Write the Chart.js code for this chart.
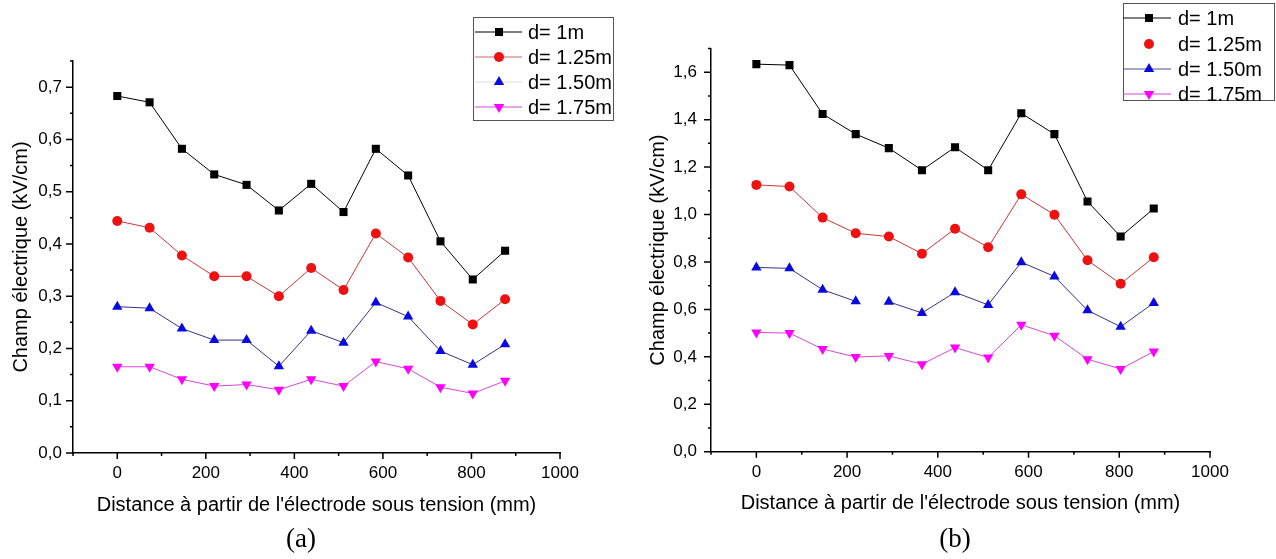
<!DOCTYPE html>
<html>
<head>
<meta charset="utf-8">
<script src="https://cdn.jsdelivr.net/npm/chart.js@4.4.1/dist/chart.umd.min.js"></script>
<style>
  body { margin: 0; background: #fff; width: 1276px; height: 559px; overflow: hidden; position: relative; }
  .panel { position: absolute; top: 0; height: 559px; }
  .cap { position: absolute; top: 523px; font-family: "Liberation Serif", "Times New Roman", serif; font-size: 27px; transform: translateX(-50%); color: #000; }
</style>
</head>
<body>
<div class="panel" style="left:0;width:640px"><canvas id="chartA"></canvas></div>
<div class="panel" style="left:640px;width:636px"><canvas id="chartB"></canvas></div>
<div class="cap" style="left:301px">(a)</div>
<div class="cap" style="left:955px">(b)</div>
<script>
// distances (mm) where the field was measured
const distances = [0, 73, 146, 219, 292, 365, 438, 511, 584, 657, 730, 803, 876];
const seriesNames = ["d= 1m", "d= 1.25m", "d= 1.50m", "d= 1.75m"];

// (a) champ électrique, kV/cm
const fieldA_100 = [0.683, 0.671, 0.582, 0.533, 0.513, 0.464, 0.515, 0.461, 0.582, 0.531, 0.405, 0.332, 0.387];
const fieldA_125 = [0.444, 0.431, 0.378, 0.338, 0.338, 0.300, 0.354, 0.312, 0.420, 0.374, 0.291, 0.246, 0.294];
const fieldA_150 = [0.280, 0.277, 0.238, 0.216, 0.216, 0.166, 0.234, 0.211, 0.288, 0.261, 0.195, 0.169, 0.208];
const fieldA_175 = [0.165, 0.165, 0.141, 0.128, 0.131, 0.121, 0.141, 0.128, 0.175, 0.161, 0.126, 0.114, 0.138];

// (b) champ électrique, kV/cm
const fieldB_100 = [1.634, 1.630, 1.424, 1.339, 1.280, 1.187, 1.284, 1.187, 1.427, 1.339, 1.055, 0.907, 1.025];
const fieldB_125 = [1.125, 1.118, 0.987, 0.921, 0.907, 0.835, 0.940, 0.862, 1.085, 0.999, 0.807, 0.708, 0.820];
const fieldB_150 = [0.777, 0.773, 0.683, 0.634, 0.632, 0.585, 0.672, 0.619, 0.799, 0.739, 0.596, 0.527, 0.627];
const fieldB_175 = [0.503, 0.500, 0.433, 0.399, 0.404, 0.369, 0.439, 0.397, 0.535, 0.489, 0.390, 0.349, 0.422];

// tick labels
const xTicks = [0, 200, 400, 600, 800, 1000];
const xMinor = [-100, 100, 300, 500, 700, 900];
const yTicksA = [0, 0.1, 0.2, 0.3, 0.4, 0.5, 0.6, 0.7];
const yMinorA = [0.05, 0.15, 0.25, 0.35, 0.45, 0.55, 0.65, 0.75];
const yTicksB = [0, 0.2, 0.4, 0.6, 0.8, 1.0, 1.2, 1.4, 1.6];
const yMinorB = [0.1, 0.3, 0.5, 0.7, 0.9, 1.1, 1.3, 1.5, 1.7];

const xTitle = "Distance à partir de l'électrode sous tension (mm)";
const yTitle = "Champ électrique (kV/cm)";

const markers = [
  { style: "rect", rot: 0, r: 5.7, fill: "#000000", line: "#000000" },
  { style: "circle", rot: 0, r: 5, fill: "#ee1111", line: "#cc3535" },
  { style: "triangle", rot: 0, r: 6, fill: "#0a0ae0", line: "#34347e" },
  { style: "triangle", rot: 180, r: 6, fill: "#ff00ff", line: "#d448d4" }
];

Chart.defaults.font.family = '"Liberation Sans", Arial, sans-serif';
Chart.defaults.color = "#000";

const fmt = v => v.toFixed(1).replace(".", ",");

function drawMarker(ctx, m, x, y) {
  ctx.fillStyle = m.fill;
  ctx.strokeStyle = m.fill;
  if (Chart.helpers && Chart.helpers.drawPoint) {
    Chart.helpers.drawPoint(ctx, { pointStyle: m.style, rotation: m.rot, radius: m.r, borderWidth: 0 }, x, y);
  }
}

// outward major / minor tick marks
const axisTicks = {
  id: "axisTicks",
  afterDraw(chart, args, opts) {
    const ctx = chart.ctx;
    const xs = chart.scales.x, ys = chart.scales.y, a = chart.chartArea;
    ctx.save();
    ctx.strokeStyle = "#000";
    ctx.lineWidth = 1.5;
    ctx.beginPath();
    xTicks.forEach(v => { const p = xs.getPixelForValue(v); ctx.moveTo(p, a.bottom); ctx.lineTo(p, a.bottom + 6); });
    xMinor.forEach(v => { const p = xs.getPixelForValue(v); ctx.moveTo(p, a.bottom); ctx.lineTo(p, a.bottom + 3); });
    opts.major.forEach(v => { const p = ys.getPixelForValue(v); ctx.moveTo(a.left, p); ctx.lineTo(a.left - 7, p); });
    opts.minor.forEach(v => { const p = ys.getPixelForValue(v); ctx.moveTo(a.left, p); ctx.lineTo(a.left - 3, p); });
    ctx.stroke();
    ctx.restore();
  }
};

// Origin-style legend: line with marker in the middle
const boxLegend = {
  id: "boxLegend",
  afterDraw(chart, args, o) {
    const ctx = chart.ctx;
    ctx.save();
    ctx.fillStyle = "#fff";
    ctx.fillRect(o.box[0], o.box[1], o.box[2] - o.box[0], o.box[3] - o.box[1]);
    ctx.strokeStyle = "#555";
    ctx.lineWidth = 1;
    ctx.strokeRect(o.box[0] + 0.5, o.box[1] + 0.5, o.box[2] - o.box[0], o.box[3] - o.box[1]);
    seriesNames.forEach((name, i) => {
      const y = o.rows[i];
      if (o.lines[i]) {
        ctx.strokeStyle = o.lines[i];
        ctx.lineWidth = 1;
        ctx.beginPath();
        ctx.moveTo(o.lineX[0], y);
        ctx.lineTo(o.lineX[1], y);
        ctx.stroke();
      }
      drawMarker(ctx, markers[i], o.markX, y);
      ctx.fillStyle = "#000";
      ctx.font = '20px "Liberation Sans", Arial, sans-serif';
      ctx.textBaseline = "middle";
      ctx.textAlign = "left";
      ctx.fillText(name, o.textX, y + 1);
    });
    ctx.restore();
  }
};

function makeSets(series, gap) {
  return series.map((vals, i) => {
    const m = markers[i];
    const g = gap[i];
    return {
      label: seriesNames[i],
      data: distances.map((d, j) => ({ x: d, y: vals[j] })),
      borderColor: m.line,
      borderWidth: 1,
      segment: { borderColor: c => (g !== null && c.p0DataIndex === g ? "rgba(0,0,0,0)" : m.line) },
      pointStyle: m.style,
      pointRotation: m.rot,
      pointRadius: m.r,
      pointHoverRadius: m.r,
      pointBackgroundColor: m.fill,
      pointBorderColor: m.fill,
      pointBorderWidth: 0,
      tension: 0
    };
  });
}

function makeScales(yMax, yTicks, yWidth, yPad, yTitlePad) {
  return {
    x: {
      type: "linear", min: -100, max: 1000,
      afterBuildTicks: s => { s.ticks = xTicks.map(v => ({ value: v })); },
      afterFit: s => { s.height = 70; },
      grid: { display: false, drawTicks: false },
      border: { display: true, color: "#000", width: 1.5 },
      ticks: { color: "#000", font: { size: 17 }, padding: 10, maxRotation: 0, autoSkip: false, callback: v => String(v) },
      title: { display: true, text: xTitle, color: "#000", font: { size: 20 }, padding: { top: 0, bottom: 6 } }
    },
    y: {
      type: "linear", min: 0, max: yMax,
      afterBuildTicks: s => { s.ticks = yTicks.map(v => ({ value: v })); },
      afterFit: s => { s.width = yWidth; },
      grid: { display: false, drawTicks: false },
      border: { display: true, color: "#000", width: 1.5 },
      ticks: { color: "#000", font: { size: 17 }, padding: yPad, callback: v => fmt(v) },
      title: { display: true, text: yTitle, color: "#000", font: { size: 20 }, padding: { top: yTitlePad, bottom: 0 } }
    }
  };
}

new Chart(document.getElementById("chartA"), {
  type: "line",
  data: { datasets: makeSets([fieldA_100, fieldA_125, fieldA_150, fieldA_175], [null, null, null, null]) },
  options: {
    responsive: true, maintainAspectRatio: false, animation: false,
    layout: { padding: { left: 0, top: 61, right: 80, bottom: 36 } },
    scales: makeScales(0.75, yTicksA, 73, 11, 9),
    plugins: {
      legend: { display: false }, tooltip: { enabled: false },
      axisTicks: { major: yTicksA, minor: yMinorA },
      boxLegend: {
        box: [473, 17, 613, 120], rows: [32, 57, 82, 107],
        lineX: [475, 522], markX: 499, textX: 528,
        lines: ["#000", "#c86a6a", "#dddddd", "#d448d4"]
      }
    }
  },
  plugins: [axisTicks, boxLegend]
});

new Chart(document.getElementById("chartB"), {
  type: "line",
  data: { datasets: makeSets([fieldB_100, fieldB_125, fieldB_150, fieldB_175], [null, null, 3, null]) },
  options: {
    responsive: true, maintainAspectRatio: false, animation: false,
    layout: { padding: { left: 0, top: 48.5, right: 66, bottom: 37.3 } },
    scales: makeScales(1.7, yTicksB, 71, 14, 6),
    plugins: {
      legend: { display: false }, tooltip: { enabled: false },
      axisTicks: { major: yTicksB, minor: yMinorB },
      boxLegend: {
        box: [483, 3, 634, 100], rows: [18, 44, 69, 94],
        lineX: [483, 531], markX: 509, textX: 538,
        lines: ["#000", null, "#4a4aa0", "#d448d4"]
      }
    }
  },
  plugins: [axisTicks, boxLegend]
});
</script>
</body>
</html>
